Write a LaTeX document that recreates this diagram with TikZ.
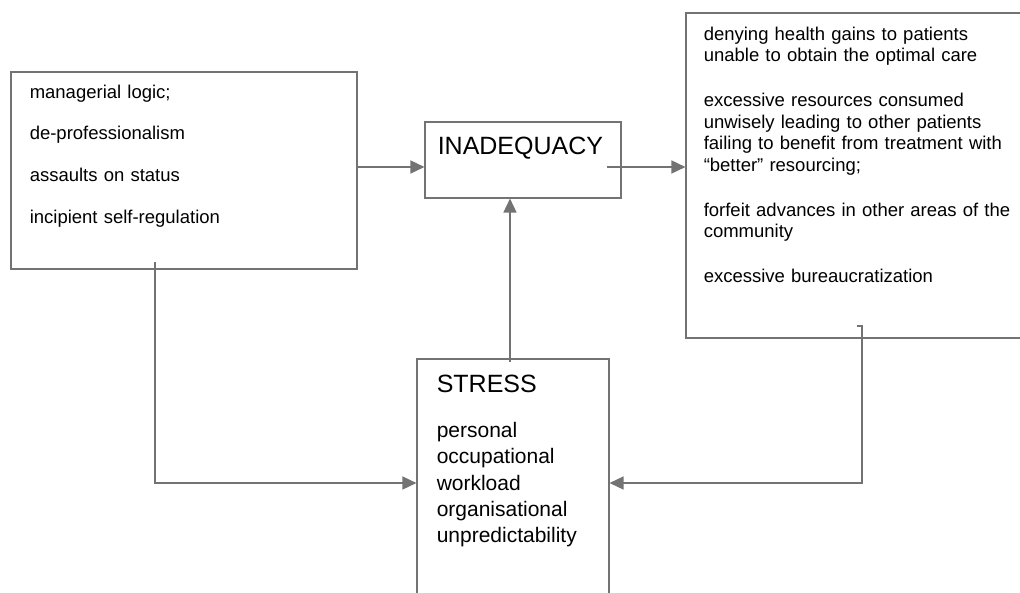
\documentclass[tikz,border=0pt]{standalone}
\usepackage{fontspec}
\setmainfont{Liberation Sans}
\usetikzlibrary{arrows.meta}

\begin{document}
\begin{tikzpicture}[> = {Triangle[length=14pt, width=13pt]}, % arrow head style
                x = 1pt, y = -1pt, % pixel units, y grows downwards
                line width = 1.5pt % line style
            ]

            \tikzstyle{box}=[draw = black!55, line width = 1.1pt, rectangle,
            inner sep = 0pt]
            \tikzstyle{txt}=[anchor = base west, inner sep = 0pt, align = left,
            text width = 320pt]
            \tikzstyle{link}=[draw = black!55, line width = 1.5pt]

            \useasboundingbox (0,0) rectangle (1020,592);
            \clip (0,0) rectangle (1020,592);

            % boxes
            \node[box, minimum width = 346pt, minimum height = 197pt] (causes) at (184,170.5) {};
            \node[box, minimum width = 196pt, minimum height = 76pt] (ina) at (523,160) {};
            \node[box, minimum width = 344pt, minimum height = 325pt] (effects) at (858,175.5) {};
            \node[box, minimum width = 192pt, minimum height = 261pt] (stress) at (513,489.5) {};

            % texts
            \node[txt, font = \fontsize{18.5}{21.7}\selectfont] (causestxt) at (29,98)
            {managerial logic;\\[20pt] de-professionalism\\[20pt] assaults on status\\[20pt]
             incipient self-regulation};
            \node[txt, font = \fontsize{25}{30}\selectfont] (inatxt) at (437,154) {INADEQUACY};
            \node[txt, font = \fontsize{18.5}{21.7}\selectfont] (effectstxt) at (703,40)
            {denying health gains to patients\\ unable to obtain the optimal care\\[23pt]
             excessive resources consumed\\ unwisely leading to other patients\\
             failing to benefit from treatment with\\ “better” resourcing;\\[23pt]
             forfeit advances in other areas of the\\ community\\[23pt]
             excessive bureaucratization};
            \node[txt, font = \fontsize{25}{30}\selectfont] (stresstitle) at (436,392) {STRESS};
            \node[txt, font = \fontsize{21}{26.3}\selectfont] (stresstxt) at (436,437.5)
            {personal\\ occupational\\ workload\\ organisational\\ unpredictability};

            % connectors
            \coordinate (inaout) at (607,167); \coordinate (stressout) at (510,362);
            \coordinate (causesout) at (155,262); \coordinate (lbend) at (155,483);
            \coordinate (effectsout) at (862,326); \coordinate (rbend) at (862,483);

            \draw[link, ->] (causes.east |- inaout) -- (ina.west |- inaout);
            \draw[link, ->] (inaout) -- (effects.west |- inaout);
            \draw[link, ->] (stressout) -- (ina.south -| stressout);
            \draw[link, ->] (causesout) -- (lbend) -- (stress.west |- lbend);
            \draw[link, ->] ([xshift=-5pt]effectsout) -- (effectsout) -- (rbend)
            -- (stress.east |- rbend);
\end{tikzpicture}
\end{document}
